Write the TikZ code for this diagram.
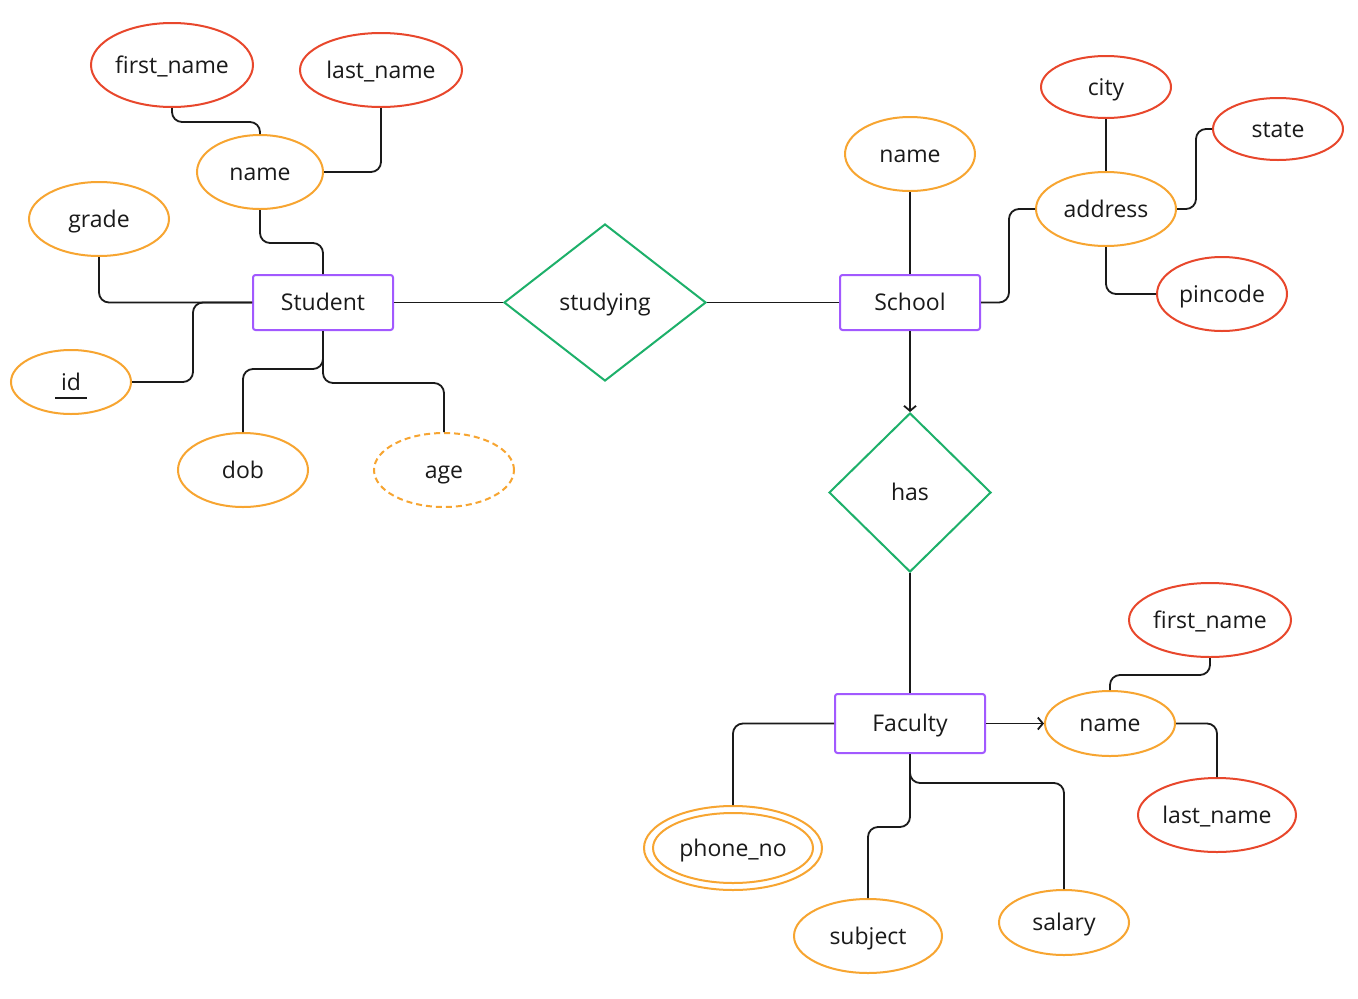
\documentclass[tikz,border=0pt]{standalone}
\usepackage{fontspec}
\setmainfont{Open Sans}
\usetikzlibrary{shapes.geometric,arrows.meta}
\definecolor{ora}{HTML}{F7A531}
\definecolor{rd}{HTML}{E8472C}
\definecolor{pur}{HTML}{A259FF}
\definecolor{grn}{HTML}{1DB06A}
\definecolor{txt}{HTML}{1A1A1A}
\begin{document}
\begin{tikzpicture}[x=1pt,y=-1pt,
  every node/.style={font=\fontsize{23}{26}\selectfont, text=txt, text height=20.4pt, text depth=4pt},
  ent/.style={draw=pur, line width=2pt, rounded corners=2.5pt, minimum width=140, minimum height=55, inner sep=0pt},
  rel/.style={diamond, draw=grn, line width=2pt, inner sep=0pt},
  attr/.style={ellipse, draw=ora, line width=2pt, inner sep=0pt},
  sub/.style={ellipse, draw=rd, line width=2pt, inner sep=0pt},
  con/.style={draw=txt, line width=1.8pt, rounded corners=10pt},
  arr/.style={-{Straight Barb[length=5pt,width=12pt]}}
]
\useasboundingbox (0,0) rectangle (1358,999);
\fill[white] (0,0) rectangle (1358,999);

% entities
\node[ent] (stu) at (323,302.5) {Student};
\node[ent] (sch) at (910,302.5) {School};
\node[ent, minimum width=150, minimum height=59] (fac) at (910,723.5) {Faculty};

% relations
\node[rel, minimum width=202, minimum height=157] (study) at (605,302.5) {studying};
\node[rel, minimum width=162, minimum height=159] (has) at (910,492.5) {has};

% student attributes
\node[sub, minimum width=162, minimum height=84] (sfn) at (172,65) {first\_name};
\node[sub, minimum width=162, minimum height=74] (sln) at (381,70) {last\_name};
\node[attr, minimum width=126, minimum height=74] (snm) at (260,172) {name};
\node[attr, minimum width=140, minimum height=74] (grade) at (99,219) {grade};
\node[attr, minimum width=120, minimum height=64] (id) at (71,382) {id};
\draw[txt, line width=1.4pt] (55,398) -- (87,398);
\node[attr, minimum width=130, minimum height=74] (dob) at (243,470) {dob};
\node[attr, dashed, dash pattern=on 6pt off 4pt, minimum width=140, minimum height=74] (age) at (444,470) {age};

% school attributes
\node[attr, minimum width=130, minimum height=74] (schn) at (910,154) {name};
\node[sub, minimum width=130, minimum height=62] (city) at (1106,87) {city};
\node[sub, minimum width=130, minimum height=62] (state) at (1278,129) {state};
\node[attr, minimum width=140, minimum height=74] (addr) at (1106,209) {address};
\node[sub, minimum width=130, minimum height=74] (pin) at (1222,294) {pincode};

% faculty attributes
\node[sub, minimum width=162, minimum height=74] (ffn) at (1210,620) {first\_name};
\node[attr, minimum width=130, minimum height=65] (fnm) at (1110,723.5) {name};
\node[sub, minimum width=158, minimum height=74] (fln) at (1217,815) {last\_name};
\node[attr, minimum width=178, minimum height=84] (phone) at (733,848) {};
\node[attr, minimum width=160, minimum height=70] (phonein) at (733,848) {phone\_no};
\node[attr, minimum width=148, minimum height=74] (subj) at (868,936) {subject};
\node[attr, minimum width=130, minimum height=65] (sal) at (1064,922.5) {salary};

% connectors - student
\draw[con] (sfn.south) -- ++(0,14) -| (snm.north);
\draw[con] (sln.south) |- (snm.east);
\draw[con] (snm.south) -- ++(0,33) -| (stu.north);
\draw[con] (grade.south) |- (stu.west);
\draw[con] (id.east) -- ++(61,0) |- (stu.west);
\draw[con] (stu.south) -- ++(0,38) -| (dob.north);
\draw[con] (stu.south) -- ++(0,52) -| (age.north);
\draw[con] (stu.east) -- (study.west);
\draw[con] (study.east) -- (sch.west);

% connectors - school
\draw[con] (schn.south) -- (sch.north);
\draw[con] (sch.east) -- ++(28,0) |- (addr.west);
\draw[con] (city.south) -- (addr.north);
\draw[con] (addr.east) -- ++(19,0) |- (state.west);
\draw[con] (addr.south) |- (pin.west);
\draw[con, arr] (sch.south) -- (has.north);
\draw[con] (has.south) -- (fac.north);

% connectors - faculty
\draw[con, arr] (fac.east) -- (fnm.west);
\draw[con] (ffn.south) -- ++(0,17) -| (fnm.north);
\draw[con] (fnm.east) -| (fln.north);
\draw[con] (fac.west) -| (phone.north);
\draw[con] (fac.south) -- ++(0,73) -| (subj.north);
\draw[con] (fac.south) -- ++(0,29) -| (sal.north);
\end{tikzpicture}
\end{document}
